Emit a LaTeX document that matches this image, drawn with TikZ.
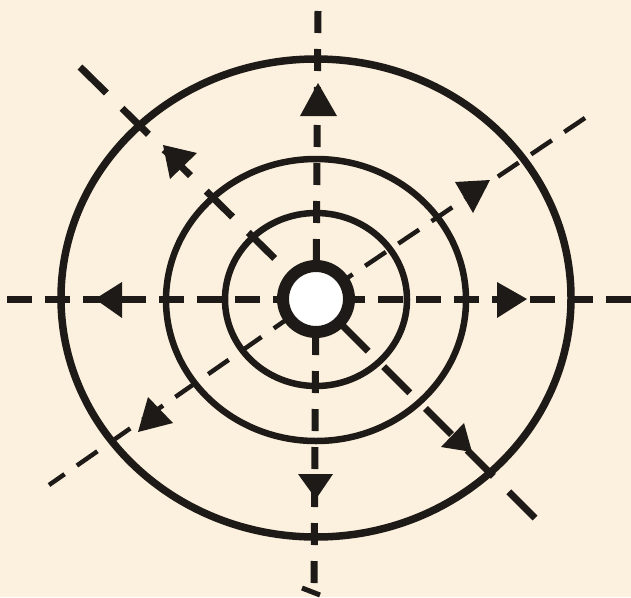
\documentclass[tikz,border=0pt]{standalone}
\definecolor{bg}{RGB}{252,241,222}
\definecolor{ink}{RGB}{30,26,23}
\begin{document}
\begin{tikzpicture}[x=1pt,y=-1pt,
  vert/.style={ink, line width=7pt, dash pattern=on 22pt off 16pt},
  horiz/.style={ink, line width=7pt, dash pattern=on 25pt off 13pt},
  diagA/.style={ink, line width=7pt, dash pattern=on 37pt off 22pt},
  diagB/.style={ink, line width=4.5pt, dash pattern=on 25pt off 15pt},
  ring/.style={ink, line width=6.5pt},
  tip/.style={fill=ink}]
\fill[bg] (0,0) rectangle (631,597);
\useasboundingbox (0,0) rectangle (631,597);
\coordinate (c) at (316,299);
\coordinate (vt) at (318,11);
\coordinate (vb) at (314,583);
\coordinate (hl) at (7,299);
\coordinate (hr) at (631,299);
\coordinate (aNW) at (80,67);
\coordinate (aSE) at (535,518);
\coordinate (bNE) at (585,118);
\coordinate (bSW) at (49,485);
% dashed axes
\draw[vert] (vt) -- (c);
\draw[vert] (vb) -- (c);
\draw[horiz] (hl) -- (c);
\draw[horiz] (hr) -- (c);
\draw[diagA] (aNW) -- (c);
\draw[diagA] (aSE) -- (c);
\draw[diagB] (bNE) -- (c);
\draw[diagB, dash phase=6pt] (bSW) -- (c);
\draw[ink, line width=5pt] (302,588) -- (320,595);
% rings
\draw[ring, line width=7.5pt] (316,298) ellipse [x radius=255pt, y radius=239pt];
\draw[ring] (316,300) ellipse [x radius=150pt, y radius=141pt];
\draw[ring] (316,299.5) ellipse [x radius=91pt, y radius=86.5pt];
% centre dot
\draw[ink, line width=12pt, fill=white] (c) circle [radius=33pt];
% arrowheads
\fill[tip] (318,83) -- (300,116) -- (337,116) -- cycle;
\fill[tip] (316,499) -- (298,474) -- (333,474) -- cycle;
\fill[tip] (95,299) -- (122,282) -- (122,318) -- cycle;
\fill[tip] (527,299) -- (497,282) -- (497,318) -- cycle;
\fill[tip] (163,145) -- (197,153) -- (170,179) -- cycle;
\fill[tip] (455,182) -- (490,180) -- (473,213) -- cycle;
\fill[tip] (148,397) -- (173,423) -- (138,432) -- cycle;
\fill[tip] (464,423) -- (441,447) -- (472,452) -- cycle;
\end{tikzpicture}
\end{document}
